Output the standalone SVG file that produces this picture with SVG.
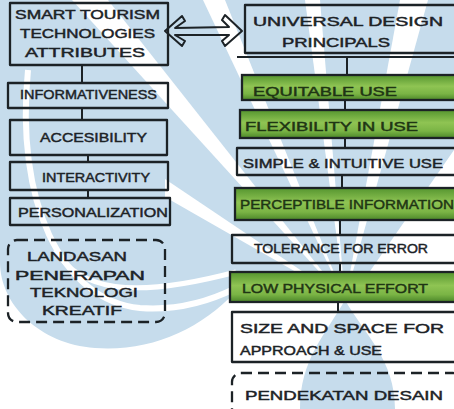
<svg xmlns="http://www.w3.org/2000/svg" width="454" height="409" viewBox="0 0 454 409">
<defs>
<linearGradient id="grn" x1="0" y1="0" x2="0" y2="1">
<stop offset="0" stop-color="#55952f"/>
<stop offset="0.45" stop-color="#8fc453"/>
<stop offset="0.75" stop-color="#7ab445"/>
<stop offset="1" stop-color="#4b8629"/>
</linearGradient>
<style>
.bx{fill:none;stroke:#1c2226;stroke-width:2.3;stroke-linejoin:round}
.gb{fill:url(#grn);stroke:#1c2226;stroke-width:2.3}
.db{fill:none;stroke:#1c2226;stroke-width:2.3;stroke-dasharray:11 6}
.t{font-family:"Liberation Sans",Arial,sans-serif;fill:#1c2226;stroke:#1c2226;stroke-width:0.45;font-size:13px;dominant-baseline:central}
.tg{fill:#1f3514;stroke:#1f3514}
.ln{stroke:#1c2226;stroke-width:2;fill:none}
.w{fill:#ffffff}
</style>
</defs>
<!-- background watermark -->
<rect width="454" height="409" fill="#ffffff"/>
<path d="M0,0 H454 V150 L350,300 L235,292 C 200,330 150,352 95,348 C 40,344 0,305 0,262 Z" fill="#c6dcec"/>
<path d="M300,409 C 300,360 325,335 345,300 C 365,335 395,360 395,409 Z" fill="#c6dcec"/>
<path class="w" d="M203,0 L225,0 L345,300 Z"/>
<path class="w" d="M305,0 L320,0 L345,300 Z"/>
<path class="w" d="M400,0 L428,0 L345,300 Z"/>
<path class="w" d="M72,0 L108,0 L345,300 Z"/>
<path class="w" d="M165,179 L165,197 L345,300 Z"/>
<path d="M28,70 C 15,200 60,300 140,308 C 180,311 212,300 236,288" fill="none" stroke="#ffffff" stroke-width="6"/>
<path d="M55,250 C 80,290 130,300 236,272" fill="none" stroke="#ffffff" stroke-width="5"/>

<!-- connectors -->
<g id="connectors">
<path class="ln" d="M82,65 V83 M82,108 V120 M88,155 V162 M88,190 V198"/>
<path class="ln" d="M237,57 H454 M347,57 V75 M345,100 V110 M345,138 V148 M342,175 V188 M340,220 V235 M340,263 V272 M338,302 V312"/>
<path id="dblarrow" d="M165,31 L182,16 L185,21 L175,28 L229,27 L222,20 L225,15 L242,31 L225,46 L222,41 L229,35 L175,35 L185,41 L182,46 Z" fill="none" stroke="#1c2226" stroke-width="2" stroke-linejoin="round"/>
</g>

<!-- left column -->
<g id="smart-tourism">
<rect class="bx" x="10" y="3" width="158" height="62"/>
<text class="t" x="15" y="14" textLength="145" lengthAdjust="spacingAndGlyphs" font-size="17">SMART TOURISM</text>
<text class="t" x="20" y="33" textLength="135" lengthAdjust="spacingAndGlyphs" font-size="17">TECHNOLOGIES</text>
<text class="t" x="25" y="52" textLength="120" lengthAdjust="spacingAndGlyphs" font-size="17">ATTRIBUTES</text>
</g>
<g id="informativeness">
<rect class="bx" x="8" y="83" width="160" height="25"/>
<text class="t" x="20" y="94" textLength="137" lengthAdjust="spacingAndGlyphs" font-size="15">INFORMATIVENESS</text>
</g>
<g id="accesibility">
<rect class="bx" x="10" y="120" width="157" height="35"/>
<text class="t" x="40" y="137" textLength="107" lengthAdjust="spacingAndGlyphs" font-size="16">ACCESIBILITY</text>
</g>
<g id="interactivity">
<rect class="bx" x="10" y="162" width="158" height="28"/>
<text class="t" x="42" y="177" textLength="108" lengthAdjust="spacingAndGlyphs" font-size="14">INTERACTIVITY</text>
</g>
<g id="personalization">
<rect class="bx" x="10" y="198" width="160" height="27"/>
<text class="t" x="18" y="212" textLength="150" lengthAdjust="spacingAndGlyphs" font-size="17">PERSONALIZATION</text>
</g>
<g id="landasan">
<rect class="db" x="8" y="240" width="157" height="82" rx="9"/>
<text class="t" x="27" y="256" textLength="100" lengthAdjust="spacingAndGlyphs" font-size="17">LANDASAN</text>
<text class="t" x="15" y="275" textLength="130" lengthAdjust="spacingAndGlyphs" font-size="17">PENERAPAN</text>
<text class="t" x="30" y="292" textLength="108" lengthAdjust="spacingAndGlyphs" font-size="17">TEKNOLOGI</text>
<text class="t" x="42" y="310" textLength="80" lengthAdjust="spacingAndGlyphs" font-size="17">KREATIF</text>
</g>

<!-- right column -->
<g id="universal-design">
<rect class="bx" x="245" y="5" width="215" height="48"/>
<text class="t" x="253" y="21" textLength="190" lengthAdjust="spacingAndGlyphs" font-size="22">UNIVERSAL DESIGN</text>
<text class="t" x="282" y="42" textLength="108" lengthAdjust="spacingAndGlyphs" font-size="16">PRINCIPALS</text>
</g>
<g id="equitable">
<rect class="gb" x="242" y="75" width="218" height="25"/>
<text class="t tg" x="253" y="91" textLength="144" lengthAdjust="spacingAndGlyphs" font-size="17">EQUITABLE USE</text>
</g>
<g id="flexibility">
<rect class="gb" x="240" y="110" width="220" height="28"/>
<text class="t tg" x="245" y="126" textLength="173" lengthAdjust="spacingAndGlyphs" font-size="17">FLEXIBILITY IN USE</text>
</g>
<g id="simple">
<rect class="bx" x="237" y="148" width="223" height="27"/>
<text class="t" x="243" y="163" textLength="200" lengthAdjust="spacingAndGlyphs" font-size="17">SIMPLE &amp; INTUITIVE USE</text>
</g>
<g id="perceptible">
<rect class="gb" x="235" y="188" width="225" height="32"/>
<text class="t tg" x="240" y="204" textLength="214" lengthAdjust="spacingAndGlyphs" font-size="17">PERCEPTIBLE INFORMATION</text>
</g>
<g id="tolerance">
<rect class="bx" x="232" y="235" width="228" height="28"/>
<text class="t" x="254" y="248" textLength="174" lengthAdjust="spacingAndGlyphs" font-size="16">TOLERANCE FOR ERROR</text>
</g>
<g id="low-effort">
<rect class="gb" x="230" y="272" width="230" height="30"/>
<text class="t tg" x="242" y="288" textLength="186" lengthAdjust="spacingAndGlyphs" font-size="16">LOW PHYSICAL EFFORT</text>
</g>
<g id="size-space">
<rect class="bx" x="232" y="312" width="228" height="50"/>
<text class="t" x="240" y="328" textLength="204" lengthAdjust="spacingAndGlyphs" font-size="18">SIZE AND SPACE FOR</text>
<text class="t" x="240" y="350" textLength="142" lengthAdjust="spacingAndGlyphs" font-size="18">APPROACH &amp; USE</text>
</g>
<g id="pendekatan">
<rect class="db" x="232" y="373" width="230" height="50" rx="9"/>
<text class="t" x="245" y="395" textLength="198" lengthAdjust="spacingAndGlyphs" font-size="17">PENDEKATAN DESAIN</text>
</g>
</svg>
